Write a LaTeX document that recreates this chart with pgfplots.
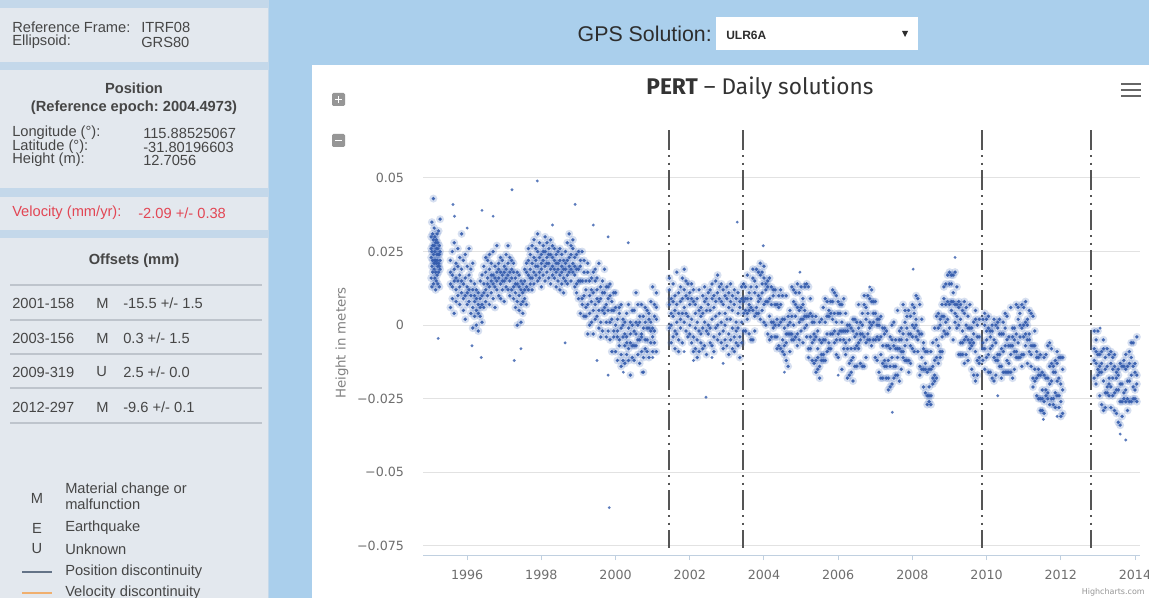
\documentclass[border=0pt]{standalone}
\usepackage{pgfplots}
\pgfplotsset{compat=1.18}
\usepackage{pgfplotstable}
\usepackage{fontspec}
\setmainfont{Liberation Sans}
\newfontfamily\hcfont{DejaVu Sans}
\newfontfamily\titlefont{Fira Sans}
\frenchspacing
\definecolor{bgblue}{RGB}{170,207,236}
\definecolor{panelgray}{RGB}{227,232,238}
\definecolor{gapblue}{RGB}{196,216,234}
\definecolor{txt}{RGB}{70,70,70}
\definecolor{velred}{RGB}{226,70,84}
\definecolor{dotblue}{RGB}{50,90,172}
\definecolor{hazeblue}{RGB}{70,110,190}
\definecolor{gridc}{RGB}{226,226,226}
\definecolor{axisc}{RGB}{192,208,224}
\definecolor{tickc}{RGB}{110,110,110}
\definecolor{bandc}{RGB}{85,85,85}
\definecolor{sepc}{RGB}{190,196,204}
\definecolor{posline}{RGB}{100,115,135}
\definecolor{velline}{RGB}{240,175,110}
\definecolor{darktxt}{RGB}{45,45,45}
\definecolor{titletxt}{RGB}{51,51,51}
\definecolor{btngray}{RGB}{150,150,150}
\definecolor{menugray}{RGB}{102,102,102}
\definecolor{ytitle}{RGB}{130,130,130}
\pgfplotsset{
  haze/.style={only marks, mark=*, mark size=3pt, mark options={draw opacity=0, fill=hazeblue, fill opacity=0.22}},
  dots/.style={only marks, mark=*, mark size=1.4pt, mark options={draw opacity=0, fill=dotblue, fill opacity=0.9}},
}

\pgfplotstableread{
x a b c d
1995.03 23 30 16 26
1995.05 20 35 25 13
1995.07 27 18 22 31
1995.09 24 14 29 43
1995.11 19 27 33 21
1995.13 25 16 22 30
1995.15 22 28 12 18
1995.17 29 21 26 15
1995.19 17 24 31 22
1995.21 26 20 14 28
1995.23 21 32 24 18
1995.25 24 13 27 20
1995.27 19 25 22 36
1995.55 14 22 6 18
1995.60 9 17 25 13
1995.65 19 4 15 28
1995.70 12 21 8 16
1995.75 26 15 10 20
1995.80 17 7 23 13
1995.85 11 19 31 15
1995.90 22 14 5 9
1995.95 16 10 24 2
1996.00 13 20 7 11
1996.05 8 17 12 26
1996.10 15 4 19 10
1996.15 6 12 21 -1
1996.20 10 3 14 8
1996.25 5 12 0 9
1996.30 7 -2 11 4
1996.35 3 9 15 6
1996.40 10 1 17 7
1996.45 14 6 20 11
1996.50 12 18 8 23
1996.55 16 10 22 14
1996.60 19 13 7 24
1996.65 15 21 11 17
1996.70 17 9 25 14
1996.75 13 20 16 6
1996.80 18 12 27 15
1996.85 21 16 10 19
1996.90 14 23 18 9
1996.95 17 12 22 15
1997.00 15 20 8 18
1997.05 19 13 24 16
1997.10 12 17 21 27
1997.15 18 10 15 23
1997.20 16 22 12 19
1997.25 13 18 9 21
1997.30 11 16 6 14
1997.35 14 8 18 0
1997.40 10 13 5 17
1997.45 12 7 15 1
1997.50 8 14 11 4
1997.55 15 9 19 12
1997.60 13 18 7 21
1997.65 17 22 12 26
1997.70 19 14 24 16
1997.75 21 16 27 12
1997.80 18 23 14 29
1997.85 22 17 26 20
1997.90 20 25 15 31
1997.95 23 18 28 16
1998.00 19 24 21 13
1998.05 22 17 27 25
1998.10 25 20 15 30
1998.15 18 23 28 21
1998.20 21 26 16 24
1998.25 24 19 29 14
1998.30 20 23 17 27
1998.35 22 16 26 19
1998.40 18 24 13 21
1998.45 21 15 25 19
1998.50 17 22 12 26
1998.55 20 14 24 18
1998.60 16 22 11 19
1998.65 19 25 15 21
1998.70 22 17 28 14
1998.75 18 23 20 31
1998.80 24 19 27 15
1998.85 21 26 18 29
1998.90 17 23 13 20
1998.95 19 14 24 11
1999.00 19 9 25 15
1999.05 20 4 15 22
1999.10 9 25 7 15
1999.15 3 18 10 22
1999.20 6 12 3 15
1999.25 -3 18 7 21
1999.30 0 15 10 4
1999.35 16 8 12 1
1999.40 18 5 11 -3
1999.45 15 7 19 2
1999.50 9 12 3 16
1999.55 -1 8 21 5
1999.60 13 -4 9 1
1999.65 15 5 11 -2
1999.70 11 4 19 6
1999.75 13 -4 7 1
1999.80 9 13 -2 5
1999.85 1 14 -5 10
1999.90 2 5 -9 8
1999.95 11 -4 5 -2
2000.00 11 -9 0 6
2000.05 -4 -12 2 -2
2000.10 6 -7 4 -5
2000.15 -14 -1 7 -10
2000.20 0 -4 2 -12
2000.25 1 -7 -13 -3
2000.30 -10 4 -4 -6
2000.35 7 -8 -12 -1
2000.40 -6 1 -17 -3
2000.45 0 -11 5 -7
2000.50 -7 -2 5 -12
2000.55 1 -3 11 -7
2000.60 7 -10 0 -5
2000.65 -5 3 -13 1
2000.70 -3 7 -9 -4
2000.75 3 -11 -1 -16
2000.80 -5 1 6 -8
2000.85 5 -5 -9 -1
2000.90 -11 2 4 -1
2000.95 1 -6 8 -2
2001.00 13 -4 -1 -9
2001.05 -6 3 7 -2
2001.10 6 -9 2 11
2001.45 12 -1 7 16
2001.50 0 9 -6 4
2001.55 14 3 -4 8
2001.60 -2 10 5 -8
2001.65 7 18 1 -3
2001.70 11 -5 4 -9
2001.75 2 13 8 -1
2001.80 16 4 -6 9
2001.85 1 12 6 19
2001.90 10 -2 15 4
2001.95 3 14 -4 9
2002.00 11 -3 7 0
2002.05 -6 9 2 14
2002.10 8 -4 12 -9
2002.15 -1 7 -8 4
2002.20 9 -5 1 -11
2002.25 -2 5 -9 12
2002.30 6 -6 3 -3
2002.35 -8 10 -1 4
2002.40 1 -7 8 13
2002.45 9 -2 -10 5
2002.50 -3 11 0 7
2002.55 12 -6 5 -1
2002.60 2 9 -7 14
2002.65 10 -4 6 -9
2002.70 -1 15 3 8
2002.75 11 0 -5 17
2002.80 4 13 -3 9
2002.85 -6 8 1 14
2002.90 12 -2 7 -8
2002.95 0 10 -5 4
2003.00 9 -7 13 2
2003.05 -3 6 -10 11
2003.10 8 -5 2 14
2003.15 -8 5 -1 10
2003.20 7 -4 12 -9
2003.25 -2 9 1 -6
2003.30 11 -7 4 -1
2003.35 -4 8 -11 6
2003.40 9 1 -6 13
2003.45 8 -2 14 4
2003.50 13 5 9 -2
2003.55 9 2 17 4
2003.60 5 -3 11 7
2003.65 6 13 -5 9
2003.70 -5 16 5 19
2003.75 15 -2 11 3
2003.80 19 4 13 6
2003.85 4 18 10 8
2003.90 2 17 9 21
2003.95 11 14 5 18
2004.00 7 20 1 16
2004.05 12 8 14 0
2004.10 13 -3 8 15
2004.15 16 3 9 -5
2004.20 13 -4 7 1
2004.25 12 -1 10 1
2004.30 7 -4 12 0
2004.35 -8 7 2 -4
2004.40 10 0 6 -7
2004.45 12 -8 1 7
2004.50 10 -5 -9 2
2004.55 -7 -1 -10 2
2004.60 -12 -3 10 -6
2004.65 -3 0 -14 3
2004.70 5 -3 -9 1
2004.75 -3 13 -5 3
2004.80 8 0 12 -5
2004.85 7 11 -4 3
2004.90 -7 6 14 -3
2004.95 1 11 -5 5
2005.00 -2 6 2 13
2005.05 2 9 -6 7
2005.10 5 13 -1 3
2005.15 3 -4 14 0
2005.20 13 -8 3 -11
2005.25 -8 9 -4 4
2005.30 -12 3 -6 1
2005.35 1 -13 -5 -3
2005.40 3 -12 -4 -16
2005.45 -8 -11 -2 -15
2005.50 -5 -18 1 -14
2005.55 -10 -6 -12 2
2005.60 -10 6 -5 -12
2005.65 -12 1 -5 9
2005.70 -9 8 -3 3
2005.75 -8 5 -6 3
2005.80 -3 8 -8 4
2005.85 12 -3 2 8
2005.90 -6 4 -2 11
2005.95 -10 10 1 -5
2006.00 -11 4 8 -3
2006.05 4 -2 7 -5
2006.10 7 -2 -15 1
2006.15 -2 -5 9 -8
2006.20 -10 -2 4 -6
2006.25 -2 -18 0 -8
2006.30 -13 -5 -17 0
2006.35 -12 -16 -1 -8
2006.40 2 -11 -19 -2
2006.45 -4 -14 2 -8
2006.50 1 -7 -3 -14
2006.55 -1 -8 7 -6
2006.60 -5 -13 1 -3
2006.65 -3 4 -14 0
2006.70 -14 7 -4 10
2006.75 6 -11 2 -6
2006.80 10 -5 4 -3
2006.85 -5 9 1 -1
2006.90 -7 8 0 12
2006.95 1 4 -5 8
2007.00 -5 8 -11 4
2007.05 0 -4 2 -12
2007.10 0 -16 -5 2
2007.15 3 -10 -4 -18
2007.20 -1 -18 -7 -13
2007.25 -1 -14 -3 -12
2007.30 -7 -18 -2 -14
2007.35 -22 -7 -12 -18
2007.40 -4 -14 -8 -21
2007.45 0 -20 -11 -5
2007.50 1 -14 -18 -7
2007.55 -14 -8 -17 -5
2007.60 -17 -8 5 -11
2007.65 -8 -5 -19 -2
2007.70 -1 -9 -15 -5
2007.75 -9 7 -11 -3
2007.80 1 -7 5 -12
2007.85 -1 3 -12 -5
2007.90 -16 -3 5 -12
2007.95 -7 3 -13 -3
2008.00 -8 0 -4 7
2008.05 -1 6 -9 4
2008.10 2 10 -4 0
2008.15 -2 -9 9 -5
2008.20 7 -14 -3 -17
2008.25 -15 2 -11 -3
2008.30 -21 -6 -15 -8
2008.35 -9 -23 -15 -13
2008.40 -9 -24 -16 -27
2008.45 -21 -24 -15 -26
2008.50 -15 -27 -9 -24
2008.55 -18 -14 -20 -6
2008.60 -17 -1 -12 -19
2008.65 -18 -5 -11 3
2008.70 -13 4 -7 -1
2008.75 -11 2 -9 0
2008.80 -4 7 -9 3
2008.85 13 -2 3 9
2008.90 -3 7 1 14
2008.95 -3 17 8 2
2009.00 -1 14 18 7
2009.05 14 8 17 5
2009.10 17 8 -5 11
2009.15 7 4 18 1
2009.20 -1 7 13 3
2009.25 6 -10 8 0
2009.30 -6 2 -10 7
2009.35 -6 -10 5 -2
2009.40 8 -5 -13 4
2009.45 0 -10 6 -4
2009.50 3 -5 -1 -12
2009.55 -1 -8 7 -6
2009.60 -7 -15 -1 -5
2009.65 -6 1 -17 -3
2009.70 -19 2 -9 5
2009.75 0 -17 -4 -12
2009.80 2 -13 -4 -11
2009.90 -12 2 -6 -8
2009.95 -15 0 -8 4
2010.00 -5 -2 -11 2
2010.05 -10 3 -16 -1
2010.10 -4 -8 -2 -16
2010.15 -2 -18 -7 0
2010.20 2 -11 -5 -19
2010.25 0 -17 -6 -12
2010.30 1 -12 -1 -10
2010.35 -3 -14 2 -10
2010.40 -18 -3 -8 -14
2010.45 1 -9 -3 -16
2010.50 4 -16 -7 -1
2010.55 3 -12 -16 -5
2010.60 -13 -7 -16 -4
2010.65 -16 -7 6 -10
2010.70 -7 -4 -18 -1
2010.75 -1 -9 -15 -5
2010.80 -9 7 -11 -3
2010.85 2 -6 6 -11
2010.90 0 4 -11 -4
2010.95 -14 -1 7 -10
2011.00 -4 6 -10 0
2011.05 -7 1 -3 8
2011.10 -5 2 -13 0
2011.15 -3 5 -9 -5
2011.20 -7 -14 4 -10
2011.25 3 -18 -7 -21
2011.30 -19 -2 -15 -7
2011.35 -24 -9 -18 -11
2011.40 -11 -25 -17 -15
2011.45 -10 -25 -17 -29
2011.50 -22 -25 -16 -29
2011.55 -17 -30 -11 -26
2011.60 -22 -18 -24 -10
2011.65 -23 -7 -18 -25
2011.70 -27 -14 -20 -6
2011.75 -25 -8 -19 -13
2011.80 -27 -14 -25 -16
2011.85 -23 -12 -28 -16
2011.90 -9 -24 -19 -13
2011.95 -28 -18 -24 -11
2012.00 -31 -11 -20 -26
2012.05 -30 -15 -11 -22
2012.90 -8 -18 -2 -12
2012.95 -5 -13 -9 -20
2013.00 -10 -17 -2 -15
2013.05 -16 -24 -10 -14
2013.10 -16 -9 -27 -13
2013.15 -29 -8 -19 -5
2013.20 -11 -28 -15 -23
2013.25 -8 -23 -14 -21
2013.30 -24 -10 -18 -20
2013.35 -28 -13 -21 -9
2013.40 -18 -15 -24 -11
2013.45 -23 -10 -29 -14
2013.50 -18 -22 -16 -30
2013.55 -17 -33 -22 -15
2013.60 -13 -26 -20 -34
2013.65 -14 -31 -20 -26
2013.70 -12 -25 -14 -23
2013.75 -15 -26 -10 -22
2013.80 -29 -14 -19 -25
2013.85 -9 -19 -13 -26
2013.90 -6 -26 -17 -11
2013.95 -6 -21 -25 -14
2014.00 -22 -16 -25 -13
2014.05 -26 -17 -4 -20
}\heighttab

\pgfplotstableread{
x y
1995.22 -4.5
1995.62 41
1995.66 37
1996.40 39
1996.70 37
1997.21 46
1997.89 49
1998.91 41
1999.40 34
1999.80 30
2000.34 28
1996.13 -7
1996.38 -11
1997.27 -12
1997.45 -8
1998.64 -6
1999.50 -12
1999.80 -17
2000.21 -16
2000.72 -16
2001.00 -11
2002.44 -24.5
1999.83 -62
2003.28 35
2003.98 27
2004.97 18
2007.46 -29.6
2009.15 23
2008.02 19
2011.53 -32
2011.90 -31
2013.06 -1
2013.60 -37
2013.75 -39
2001.85 -9
2002.10 -12
2002.60 -11
2002.90 -13
2004.55 -16
2006.00 -17
2005.10 14
1998.30 34
1996.00 33
2006.85 13
2010.30 -24
}\outliertab

\begin{document}
\begin{tikzpicture}[x=0.75pt,y=-0.75pt]
\useasboundingbox (0,0) rectangle (1149,598);
\fill[bgblue] (0,0) rectangle (1149,598);
% left column
\fill[gapblue] (0,0) rectangle (269,598);
\fill[panelgray] (0,8) rectangle (268,62);
\fill[panelgray] (0,70) rectangle (268,188);
\fill[panelgray] (0,197) rectangle (268,230);
\fill[panelgray] (0,238) rectangle (268,598);

\begin{scope}[every node/.style={font=\fontsize{11}{12}\selectfont, text=txt, inner sep=0pt}]
\node[anchor=west] at (12,27) {Reference Frame:};
\node[anchor=west] at (141,27) {ITRF08};
\node[anchor=west] at (12,42) {Ellipsoid:};
\node[anchor=west] at (141,42) {GRS80};
\node[font=\bfseries\fontsize{11}{12}\selectfont] at (134,88) {Position};
\node[font=\bfseries\fontsize{11}{12}\selectfont] at (134,108) {(Reference epoch: 2004.4973)};
\node[anchor=west] at (12,133) {Longitude (°):};
\node[anchor=west] at (143,133) {115.88525067};
\node[anchor=west] at (12,147) {Latitude (°):};
\node[anchor=west] at (143,147) {-31.80196603};
\node[anchor=west] at (12,160) {Height (m):};
\node[anchor=west] at (143,160) {12.7056};
\node[anchor=west, text=velred] at (12,213) {Velocity (mm/yr):};
\node[anchor=west, text=velred] at (138,213) {-2.09 +/- 0.38};
\node[font=\bfseries\fontsize{11}{12}\selectfont] at (134,261) {Offsets (mm)};
\node[anchor=west] at (12,303) {2001-158};
\node[anchor=west] at (96,303) {M};
\node[anchor=west] at (123,303) {-15.5 +/- 1.5};
\node[anchor=west] at (12,338) {2003-156};
\node[anchor=west] at (96,338) {M};
\node[anchor=west] at (123,338) {0.3 +/- 1.5};
\node[anchor=west] at (12,372) {2009-319};
\node[anchor=west] at (96,372) {U};
\node[anchor=west] at (123,372) {2.5 +/- 0.0};
\node[anchor=west] at (12,407) {2012-297};
\node[anchor=west] at (96,407) {M};
\node[anchor=west] at (123,407) {-9.6 +/- 0.1};
\node at (37,498) {M};
\node[anchor=west] at (65,490) {Material change or};
\node[anchor=west] at (65,504) {malfunction};
\node at (37,528) {E};
\node[anchor=west] at (65,528) {Earthquake};
\node at (37,549) {U};
\node[anchor=west] at (65,549) {Unknown};
\node[anchor=west] at (65,572) {Position discontinuity};
\node[anchor=west] at (65,593) {Velocity discontinuity};
\end{scope}
\foreach \yy in {285,320,354,388,423} \draw[sepc, line width=1.2pt] (10,\yy) -- (262,\yy);
\draw[posline, line width=1.5pt] (22,572) -- (52,572);
\draw[velline, line width=1.5pt] (22,593) -- (52,593);

% top bar
\node[anchor=east, inner sep=0pt, font=\fontsize{16}{18}\selectfont, text=darktxt] at (712,34) {GPS Solution:};
\fill[white] (716,17) rectangle (918,50);
\node[anchor=west, inner sep=0pt, font=\bfseries\fontsize{9}{10}\selectfont, text=darktxt] at (726,35) {ULR6A};
\fill[darktxt] (902,31) -- (908,31) -- (905,37) -- cycle;

% chart panel
\fill[white] (312,65) rectangle (1149,598);
\node[font=\titlefont\fontsize{17}{19}\selectfont, text=titletxt] at (760,88) {\textbf{PERT} – Daily solutions};
\fill[btngray, rounded corners=1pt] (332,93) rectangle (345,106);
\draw[white, line width=1.2pt] (335,99.5) -- (342,99.5) (338.5,96) -- (338.5,103);
\fill[btngray, rounded corners=1pt] (332,134) rectangle (345,147);
\draw[white, line width=1.2pt] (335,140.5) -- (342,140.5);
\draw[menugray, line width=2.2pt] (1121,84) -- (1141,84) (1121,90) -- (1141,90) (1121,96) -- (1141,96);
\node[anchor=east, inner sep=0pt, font=\hcfont\fontsize{6}{7}\selectfont, text=btngray] at (1145,592) {Highcharts.com};
\node[rotate=90, inner sep=0pt, font=\hcfont\fontsize{10}{12}\selectfont, text=ytitle] at (342,343) {Height in meters};

\begin{axis}[
  at={(317.25pt,-416.25pt)}, anchor=south west,
  scale only axis, width=537.75pt, height=318.75pt,
  xmin=1994.81, xmax=2014.135, ymin=-78.1, ymax=66.3,
  xtick={1996,1998,2000,2002,2004,2006,2008,2010,2012,2014},
  xticklabels={1996,1998,2000,2002,2004,2006,2008,2010,2012,2014},
  ytick={-75,-50,-25,0,25,50},
  yticklabels={−0.075,−0.05,−0.025,0,0.025,0.05},
  ymajorgrids, grid style={gridc, line width=0.75pt},
  axis x line*=bottom, axis y line*=left,
  x axis line style={axisc, line width=0.75pt, -},
  y axis line style={draw=none},
  xtick style={axisc, line width=0.75pt},
  ytick style={draw=none},
  tick align=outside, major tick length=3.75pt,
  ticklabel style={font=\hcfont\fontsize{9.5}{11}\selectfont, text=tickc},
  xticklabel style={yshift=-4pt},
  yticklabel style={xshift=-7pt},
]
\addplot[haze] table[x=x, y=a] {\heighttab};
\addplot[haze] table[x=x, y=b] {\heighttab};
\addplot[haze] table[x=x, y=c] {\heighttab};
\addplot[haze] table[x=x, y=d] {\heighttab};
\addplot[dots] table[x=x, y=a] {\heighttab};
\addplot[dots] table[x=x, y=b] {\heighttab};
\addplot[dots] table[x=x, y=c] {\heighttab};
\addplot[dots] table[x=x, y=d] {\heighttab};
\addplot[only marks, mark=*, mark size=1.2pt, mark options={draw opacity=0, fill=dotblue, fill opacity=0.8}] table[x=x, y=y] {\outliertab};
\addplot[bandc, line width=1.5pt, dash pattern=on 15pt off 4pt on 1.5pt off 4pt on 1.5pt off 4pt] coordinates {(2001.43,66.3) (2001.43,-75.8)};
\addplot[bandc, line width=1.5pt, dash pattern=on 15pt off 4pt on 1.5pt off 4pt on 1.5pt off 4pt] coordinates {(2003.43,66.3) (2003.43,-75.8)};
\addplot[bandc, line width=1.5pt, dash pattern=on 15pt off 4pt on 1.5pt off 4pt on 1.5pt off 4pt] coordinates {(2009.87,66.3) (2009.87,-75.8)};
\addplot[bandc, line width=1.5pt, dash pattern=on 15pt off 4pt on 1.5pt off 4pt on 1.5pt off 4pt] coordinates {(2012.81,66.3) (2012.81,-75.8)};
\end{axis}
\end{tikzpicture}
\end{document}
